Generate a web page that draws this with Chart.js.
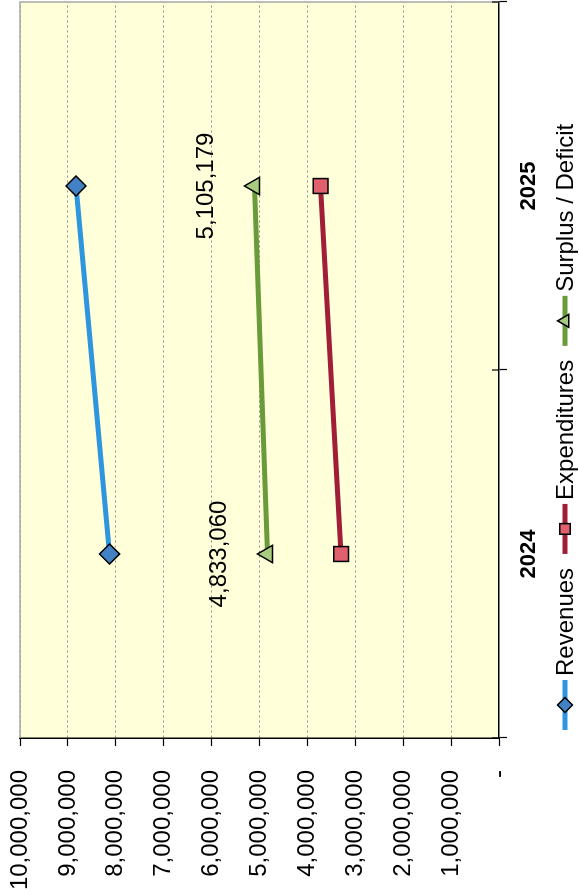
<!DOCTYPE html>
<html>
<head>
<meta charset="utf-8">
<title>Revenues / Expenditures</title>
<script src="https://cdn.jsdelivr.net/npm/chart.js@4.4.1/dist/chart.umd.min.js"></script>
<style>
  html, body { margin: 0; padding: 0; background: #fff; }
  #page { position: relative; width: 579px; height: 894px; overflow: hidden; }
  /* the chart is laid out landscape and turned a quarter turn */
  #turn { position: absolute; left: 0; top: 0; width: 894px; height: 579px;
          transform-origin: 0 0; transform: translateY(894px) rotate(-90deg); }
</style>
</head>
<body>
<div id="page"><div id="turn"><canvas id="grafica" width="894" height="579"></canvas></div></div>
<script>
const categories   = ['2024', '2025'];
const revenues     = [8130000, 8830000];
const expenditures = [3296940, 3724821];
const surplus      = [4833060, 5105179];
const valueTicks   = [0, 1000000, 2000000, 3000000, 4000000, 5000000,
                      6000000, 7000000, 8000000, 9000000, 10000000];
const seriesNames  = ['Revenues', 'Expenditures', 'Surplus / Deficit'];

const FONT = '"Liberation Sans", Arial, sans-serif';

// plot background + grey frame on the open sides
const fondo = {
  id: 'fondo',
  beforeDraw(chart) {
    const {ctx, chartArea: a} = chart;
    ctx.save();
    ctx.fillStyle = '#FFFFD9';
    ctx.fillRect(a.left, a.top, a.right - a.left, a.bottom - a.top);
    ctx.restore();
  },
  beforeDatasetsDraw(chart) {
    const {ctx, chartArea: a} = chart;
    ctx.save();
    ctx.strokeStyle = '#a8a8a8';
    ctx.lineWidth = 1.5;
    ctx.beginPath();
    ctx.moveTo(a.left, a.top);
    ctx.lineTo(a.right, a.top);
    ctx.lineTo(a.right, a.bottom);
    ctx.stroke();
    // category ticks cross the axis
    const xs = chart.scales.x;
    ctx.strokeStyle = '#000';
    ctx.lineWidth = 1.2;
    for (let i = 0; i <= categories.length; i++) {
      const px = xs.getPixelForValue(i - 0.5);
      ctx.beginPath();
      ctx.moveTo(px, a.bottom - 7);
      ctx.lineTo(px, a.bottom);
      ctx.stroke();
    }
    ctx.restore();
  }
};

// value labels over the surplus points
const etiquetas = {
  id: 'etiquetas',
  afterDatasetsDraw(chart) {
    const ctx = chart.ctx;
    const meta = chart.getDatasetMeta(2);
    ctx.save();
    ctx.font = '24px ' + FONT;
    ctx.fillStyle = '#000';
    ctx.textAlign = 'center';
    ctx.textBaseline = 'middle';
    meta.data.forEach((pt, i) => {
      ctx.fillText(surplus[i].toLocaleString('en-US'), pt.x, pt.y - 48);
    });
    ctx.restore();
  }
};

// legend: line sample with marker, then the name
const leyenda = {
  id: 'leyenda',
  afterDraw(chart) {
    const ctx = chart.ctx;
    const a = chart.chartArea;
    let x = a.left + 8;
    const y = 565;
    ctx.save();
    ctx.font = '24px ' + FONT;
    ctx.textBaseline = 'middle';
    ctx.textAlign = 'left';
    chart.data.datasets.forEach(ds => {
      ctx.strokeStyle = ds.borderColor;
      ctx.lineWidth = 5;
      ctx.beginPath();
      ctx.moveTo(x, y);
      ctx.lineTo(x + 50, y);
      ctx.stroke();
      ctx.fillStyle = ds.pointBackgroundColor;
      ctx.strokeStyle = '#000';
      ctx.lineWidth = 1.5;
      Chart.helpers.drawPoint(ctx, {pointStyle: ds.pointStyle, rotation: 0, radius: 7.5, borderWidth: 1.5}, x + 25, y);
      ctx.fillStyle = '#000';
      ctx.fillText(ds.label, x + 54, y + 1);
      x += 54 + ctx.measureText(ds.label).width + 14;
    });
    ctx.restore();
  }
};

new Chart(document.getElementById('grafica'), {
  type: 'line',
  data: {
    labels: categories,
    datasets: [
      {
        label: seriesNames[0], data: revenues,
        borderColor: '#2E96DE', borderWidth: 5,
        pointStyle: 'rectRot', pointRadius: 10,
        pointBackgroundColor: '#4282C4', pointBorderColor: '#000', pointBorderWidth: 1.5
      },
      {
        label: seriesNames[1], data: expenditures,
        borderColor: '#A01E38', borderWidth: 5,
        pointStyle: 'rect', pointRadius: 10.5,
        pointBackgroundColor: '#E0606E', pointBorderColor: '#000', pointBorderWidth: 1.5
      },
      {
        label: seriesNames[2], data: surplus,
        borderColor: '#6A9B3A', borderWidth: 5,
        pointStyle: 'triangle', pointRadius: 10,
        pointBackgroundColor: '#A9CB80', pointBorderColor: '#000', pointBorderWidth: 1.5
      }
    ]
  },
  options: {
    responsive: false,
    animation: false,
    layout: { autoPadding: false, padding: { top: 20, right: 2, bottom: 30, left: 0 } },
    elements: { line: { tension: 0 } },
    plugins: {
      legend: { display: false },
      tooltip: { enabled: false }
    },
    scales: {
      x: {
        type: 'category',
        offset: true,
        afterFit(scale) {
          scale.height = 50;
          scale.paddingLeft = 0;
          scale.paddingRight = 0;
        },
        grid: { offset: true, drawOnChartArea: false, tickLength: 8, tickColor: '#000', tickWidth: 1.2 },
        border: { color: '#000', width: 1.5 },
        ticks: { color: '#000', padding: 9, font: { family: FONT, size: 22, weight: 'bold' } }
      },
      y: {
        min: 0,
        max: 10000000,
        afterFit(scale) {
          scale.width = 156;
          scale.paddingTop = 0;
          scale.paddingBottom = 0;
        },
        afterBuildTicks(scale) { scale.ticks = valueTicks.map(v => ({ value: v })); },
        grid: {
          color: c => (c.tick && c.tick.value === 0) ? 'transparent' : '#8c8c8c',
          lineWidth: 1,
          tickLength: 8,
          tickColor: '#000',
          tickWidth: 1.2
        },
        border: { color: '#000', width: 1.5, dash: [2, 3] },
        ticks: {
          color: '#000',
          padding: 24,
          font: { family: FONT, size: 24 },
          callback: v => v === 0 ? '-' : Number(v).toLocaleString('en-US')
        }
      }
    }
  },
  plugins: [fondo, etiquetas, leyenda]
});
</script>
</body>
</html>
